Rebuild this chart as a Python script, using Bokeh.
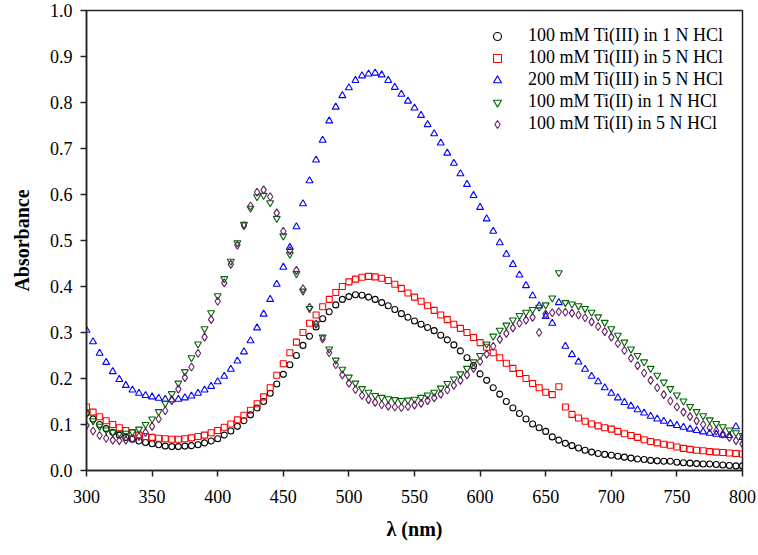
from bokeh.plotting import figure
from bokeh.models import Range1d, FixedTicker, Legend, LegendItem
from bokeh.embed import file_html
from bokeh.resources import INLINE

# wavelength grid (nm)
wavelength = list(range(300, 805, 5))

ti3_100_1N = [0.125, 0.112, 0.100, 0.091, 0.083, 0.077, 0.072, 0.068, 0.064, 0.061,
              0.058, 0.056, 0.053, 0.052, 0.052, 0.053, 0.054, 0.056, 0.060, 0.064,
              0.069, 0.077, 0.086, 0.096, 0.108, 0.121, 0.136, 0.150, 0.168, 0.188,
              0.209, 0.230, 0.250, 0.272, 0.292, 0.312, 0.330, 0.345, 0.360, 0.372,
              0.378, 0.382, 0.381, 0.377, 0.372, 0.365, 0.358, 0.350, 0.341, 0.333,
              0.325, 0.318, 0.311, 0.304, 0.294, 0.284, 0.273, 0.260, 0.245, 0.228,
              0.210, 0.196, 0.180, 0.166, 0.150, 0.136, 0.124, 0.112, 0.101, 0.093,
              0.085, 0.073, 0.066, 0.059, 0.054, 0.049, 0.044, 0.040, 0.037, 0.035,
              0.033, 0.031, 0.029, 0.027, 0.025, 0.024, 0.022, 0.021, 0.020, 0.020,
              0.018, 0.017, 0.016, 0.015, 0.014, 0.014, 0.013, 0.012, 0.011, 0.010,
              0.010]

ti3_100_5N = [0.138, 0.127, 0.117, 0.108, 0.100, 0.093, 0.087, 0.082, 0.077, 0.074,
              0.072, 0.070, 0.069, 0.068, 0.068, 0.069, 0.071, 0.074, 0.077, 0.082,
              0.087, 0.094, 0.101, 0.110, 0.120, 0.131, 0.145, 0.160, 0.180, 0.207,
              0.232, 0.256, 0.279, 0.300, 0.320, 0.338, 0.356, 0.372, 0.387, 0.400,
              0.410, 0.416, 0.420, 0.422, 0.421, 0.418, 0.413, 0.405, 0.396, 0.386,
              0.377, 0.368, 0.358, 0.348, 0.338, 0.328, 0.318, 0.309, 0.300, 0.289,
              0.278, 0.268, 0.256, 0.245, 0.233, 0.222, 0.211, 0.200, 0.189, 0.180,
              0.170, 0.165, 0.182, 0.138, 0.122, 0.114, 0.107, 0.101, 0.097, 0.093,
              0.090, 0.085, 0.080, 0.076, 0.072, 0.067, 0.063, 0.060, 0.057, 0.055,
              0.051, 0.048, 0.046, 0.044, 0.043, 0.041, 0.040, 0.039, 0.038, 0.037,
              0.036]

ti3_200_5N = [0.305, 0.280, 0.255, 0.235, 0.215, 0.198, 0.185, 0.175, 0.168, 0.163,
              0.160, 0.157, 0.155, 0.154, 0.155, 0.158, 0.162, 0.168, 0.175, 0.183,
              0.193, 0.205, 0.220, 0.238, 0.258, 0.282, 0.310, 0.340, 0.372, 0.405,
              0.442, 0.485, 0.530, 0.580, 0.630, 0.675, 0.718, 0.760, 0.790, 0.815,
              0.832, 0.848, 0.858, 0.862, 0.864, 0.860, 0.848, 0.833, 0.818, 0.803,
              0.788, 0.772, 0.752, 0.732, 0.712, 0.690, 0.668, 0.645, 0.622, 0.598,
              0.572, 0.547, 0.520, 0.495, 0.470, 0.448, 0.425, 0.402, 0.380, 0.358,
              0.335, 0.320, 0.365, 0.270, 0.252, 0.236, 0.220, 0.205, 0.193, 0.180,
              0.168, 0.158, 0.148, 0.140, 0.132, 0.125, 0.118, 0.112, 0.107, 0.102,
              0.098, 0.094, 0.090, 0.087, 0.084, 0.081, 0.079, 0.077, 0.076, 0.095,
              0.072]

ti2_100_1N = [0.123, 0.108, 0.096, 0.088, 0.083, 0.081, 0.081, 0.084, 0.090, 0.100,
              0.112, 0.128, 0.146, 0.167, 0.190, 0.215, 0.245, 0.275, 0.308, 0.343,
              0.380, 0.417, 0.455, 0.495, 0.535, 0.570, 0.595, 0.598, 0.582, 0.548,
              0.510, 0.470, 0.428, 0.390, 0.352, 0.320, 0.290, 0.264, 0.240, 0.220,
              0.203, 0.190, 0.178, 0.170, 0.163, 0.159, 0.156, 0.154, 0.152, 0.153,
              0.155, 0.159, 0.164, 0.170, 0.179, 0.189, 0.199, 0.210, 0.222, 0.236,
              0.250, 0.275, 0.292, 0.305, 0.316, 0.327, 0.337, 0.344, 0.350, 0.355,
              0.360, 0.375, 0.430, 0.365, 0.362, 0.358, 0.352, 0.344, 0.334, 0.322,
              0.308, 0.294, 0.279, 0.264, 0.250, 0.236, 0.222, 0.207, 0.192, 0.178,
              0.164, 0.151, 0.139, 0.128, 0.119, 0.110, 0.102, 0.095, 0.088, 0.082,
              0.076]

ti2_100_5N = [0.098, 0.086, 0.076, 0.070, 0.066, 0.065, 0.066, 0.069, 0.074, 0.083,
              0.096, 0.112, 0.130, 0.152, 0.177, 0.202, 0.225, 0.255, 0.290, 0.328,
              0.368, 0.408, 0.448, 0.490, 0.532, 0.575, 0.605, 0.610, 0.595, 0.560,
              0.520, 0.478, 0.435, 0.395, 0.355, 0.318, 0.286, 0.256, 0.230, 0.208,
              0.190, 0.176, 0.163, 0.154, 0.148, 0.143, 0.140, 0.138, 0.137, 0.139,
              0.142, 0.146, 0.152, 0.158, 0.166, 0.175, 0.185, 0.196, 0.208, 0.222,
              0.237, 0.253, 0.270, 0.285, 0.298, 0.310, 0.320, 0.327, 0.333, 0.300,
              0.340, 0.343, 0.345, 0.344, 0.342, 0.338, 0.332, 0.323, 0.313, 0.302,
              0.290, 0.276, 0.261, 0.244, 0.228, 0.212, 0.196, 0.180, 0.165, 0.151,
              0.138, 0.127, 0.117, 0.108, 0.100, 0.093, 0.086, 0.079, 0.072, 0.065,
              0.058]

series = [ti3_100_1N, ti3_100_5N, ti3_200_5N, ti2_100_1N, ti2_100_5N]
series_names = ["100 mM Ti(III) in 1 N HCl", "100 mM Ti(III) in 5 N HCl",
                "200 mM Ti(III) in 5 N HCl", "100 mM Ti(II) in 1 N HCl",
                "100 mM Ti(II) in 5 N HCl"]
colors = ["#000000", "#ff0000", "#0000ff", "#006400", "#661f66"]
markers = ["circle", "square", "triangle", "inverted_triangle", "diamond"]
marker_sizes = [6, 6, 7, 7, 8]

x_ticks = [300, 350, 400, 450, 500, 550, 600, 650, 700, 750, 800]
x_tick_labels = ["300", "350", "400", "450", "500", "550", "600", "650", "700", "750", "800"]
y_ticks = [0.0, 0.1, 0.2, 0.3, 0.4, 0.5, 0.6, 0.7, 0.8, 0.9, 1.0]
y_tick_labels = ["0.0", "0.1", "0.2", "0.3", "0.4", "0.5", "0.6", "0.7", "0.8", "0.9", "1.0"]

FONT = "Liberation Serif"

p = figure(width=756, height=553, x_range=Range1d(300, 800), y_range=Range1d(0, 1),
           output_backend="svg", toolbar_location=None,
           min_border_left=86, min_border_right=14, min_border_top=10, min_border_bottom=83)
p.background_fill_color = "white"
p.border_fill_color = "white"
p.outline_line_color = "#222222"
p.outline_line_width = 1.5
p.xgrid.visible = False
p.ygrid.visible = False

for ax, ticks, labels in ((p.xaxis[0], x_ticks, x_tick_labels), (p.yaxis[0], y_ticks, y_tick_labels)):
    ax.ticker = FixedTicker(ticks=ticks)
    ax.major_label_overrides = {t: l for t, l in zip(ticks, labels)}
    ax.minor_tick_line_color = None
    ax.major_tick_in = 0
    ax.major_tick_out = 6
    ax.major_tick_line_color = "#222222"
    ax.major_tick_line_width = 1.5
    ax.axis_line_color = "#222222"
    ax.axis_line_width = 1.5
    ax.major_label_text_font = FONT
    ax.major_label_text_font_size = "18px"
    ax.major_label_text_color = "black"
    ax.axis_label_text_font = FONT
    ax.axis_label_text_font_style = "bold"
    ax.axis_label_text_font_size = "20px"
    ax.axis_label_text_color = "black"

p.xaxis.axis_label = "λ (nm)"
p.yaxis.axis_label = "Absorbance"
p.xaxis.major_label_standoff = 13
p.yaxis.major_label_standoff = 8
p.xaxis.axis_label_standoff = 12
p.yaxis.axis_label_standoff = 14

items = []
for ys, name, c, m, s in zip(series, series_names, colors, markers, marker_sizes):
    r = p.scatter(wavelength, ys, marker=m, size=s, line_color=c, fill_color=None, line_width=1.1)
    items.append(LegendItem(label=name, renderers=[r]))

legend = Legend(items=items, location=(401, 336))
legend.border_line_color = None
legend.background_fill_alpha = 0
legend.padding = 0
legend.margin = 0
legend.spacing = 1
legend.glyph_width = 20
legend.glyph_height = 20
legend.label_height = 20
legend.label_standoff = 21
legend.label_text_font = FONT
legend.label_text_font_size = "18px"
legend.label_text_color = "black"
p.add_layout(legend)

open("out.html", "w").write(file_html(p, INLINE))
